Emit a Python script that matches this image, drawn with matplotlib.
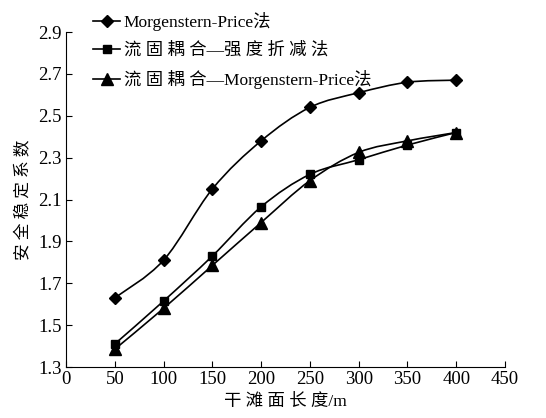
import numpy as np
import matplotlib.pyplot as plt
from matplotlib.path import Path
from matplotlib.patches import PathPatch

plt.rcParams['font.family'] = ['Liberation Serif', 'Noto Sans CJK SC']

# 干滩面长度 (m)
length = [50, 100, 150, 200, 250, 300, 350, 400]
# 安全稳定系数
mp = [1.63, 1.81, 2.15, 2.38, 2.54, 2.61, 2.66, 2.67]
srm = [1.41, 1.615, 1.83, 2.065, 2.22, 2.29, 2.36, 2.42]
cmp_ = [1.385, 1.58, 1.785, 1.99, 2.19, 2.325, 2.38, 2.42]

labels = ['Morgenstern-Price法', '流 固 耦 合—强 度 折 减 法', '流 固 耦 合—Morgenstern-Price法']
markers = ['D', 's', '^']
msizes = [6.5, 5.5, 8]


def smooth_path(x, y, t=1/6):
    # catmull-rom like excel smoothed line, as bezier segments
    x = np.asarray(x, float)
    y = np.asarray(y, float)
    verts = [(x[0], y[0])]
    codes = [Path.MOVETO]
    n = len(x)
    for i in range(n - 1):
        i0 = max(i - 1, 0)
        i3 = min(i + 2, n - 1)
        c1 = (x[i] + (x[i + 1] - x[i0]) * t, y[i] + (y[i + 1] - y[i0]) * t)
        c2 = (x[i + 1] - (x[i3] - x[i]) * t, y[i + 1] - (y[i3] - y[i]) * t)
        verts += [c1, c2, (x[i + 1], y[i + 1])]
        codes += [Path.CURVE4] * 3
    return Path(verts, codes)


fig = plt.figure(figsize=(5.46, 4.18), dpi=100)
ax = fig.add_axes([66/546, 1 - 367/418, (505-66)/546, (367-32)/418])

for ys, lab, mk, ms in zip([mp, srm, cmp_], labels, markers, msizes):
    ax.add_patch(PathPatch(smooth_path(length, ys), fill=False, lw=1.2, ec='black'))
    ax.plot(length, ys, ls='none', marker=mk, ms=ms, color='black')
    ax.plot([], [], color='black', lw=1.2, marker=mk, ms=ms, label=lab)

ax.set_xlim(0, 450)
ax.set_ylim(1.3, 2.9)
ax.set_xticks(np.arange(0, 451, 50))
ax.set_yticks(np.arange(1.3, 2.91, 0.2))
ax.set_yticklabels(['%.1f' % v for v in np.arange(1.3, 2.91, 0.2)])
ax.tick_params(direction='in', length=4, labelsize=13.5, colors='black', pad=3)
for s in ['top', 'right']:
    ax.spines[s].set_visible(False)

ax.set_xlabel('干 滩 面 长 度/m', fontsize=12.5, labelpad=4)
ax.set_ylabel('安 全 稳 定 系 数', fontsize=12, labelpad=4)

ax.legend(loc='upper left', bbox_to_anchor=(0.045, 1.08), frameon=False,
          fontsize=12.5, handlelength=1.6, handletextpad=0.2, labelspacing=0.65,
          borderaxespad=0)

fig.savefig('out.png', dpi=100)
